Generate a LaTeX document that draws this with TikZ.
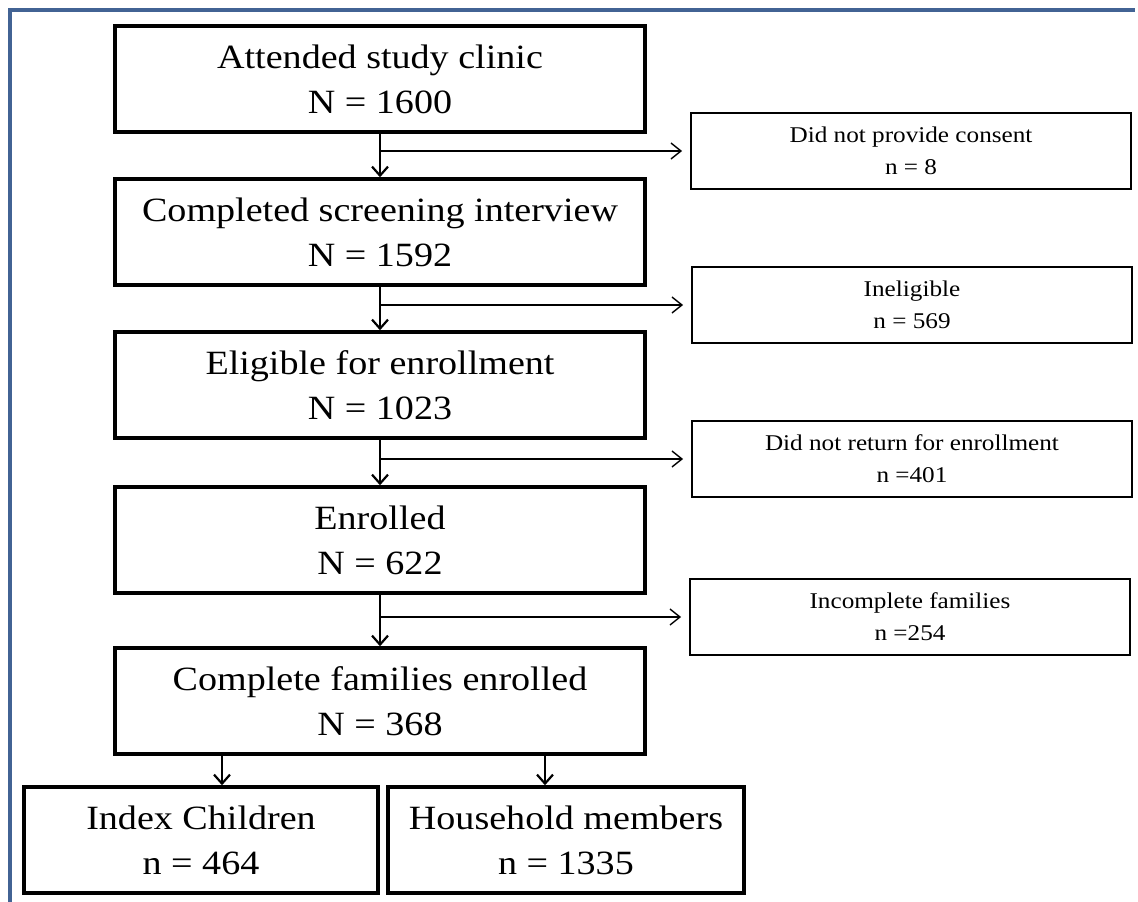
\documentclass[tikz,border=0pt]{standalone}
\usepackage{fontspec}
\setmainfont{Liberation Serif}
\newfontfamily\widefont[FakeStretch=1.12]{Liberation Serif}
\definecolor{frameblue}{RGB}{66, 99, 148}
\usetikzlibrary{arrows.meta, positioning, calc}

\begin{document}
\begin{tikzpicture}[x=1pt, y=-1pt,
    mainbox/.style={draw, line width=3.5pt, minimum width=530pt, minimum height=106pt, align=center, inner sep=0pt, font=\widefont\fontsize{34}{45}\selectfont},
    sidebox/.style={draw, line width=1.8pt, minimum width=440pt, minimum height=76pt, align=center, inner sep=0pt, font=\widefont\fontsize{22.5}{32}\selectfont},
    downarr/.style={line width=2.2pt, -{Straight Barb[length=9pt, width=16pt]}},
    sidearr/.style={line width=1.4pt, -{Straight Barb[length=10pt, width=16pt]}, shorten >=8pt}]
  \useasboundingbox (0,0) rectangle (1138,902);

  % Frame
  \draw[frameblue, line width=4pt] (10,902) -- (10,10) -- (1135,10);

  % Main flow
  \node[mainbox] (clinic) at (380, 79) {Attended study clinic\\N = 1600};
  \node[mainbox] (screen) at (380, 232) {Completed screening interview\\N = 1592};
  \node[mainbox] (eligible) at (380, 385) {Eligible for enrollment\\N = 1023};
  \node[mainbox] (enrolled) at (380, 540) {Enrolled\\N = 622};
  \node[mainbox] (complete) at (380, 701) {Complete families enrolled\\N = 368};

  % Exclusions
  \node[sidebox] (consent) at (911, 151) {Did not provide consent\\n = 8};
  \node[sidebox] (inelig) at (912, 305) {Ineligible\\n = 569};
  \node[sidebox] (noreturn) at (912, 459) {Did not return for enrollment\\n =401};
  \node[sidebox] (incomplete) at (910, 617) {Incomplete families\\n =254};

  % Final groups
  \node[mainbox, minimum width=354pt] (children) at (201, 840) {Index Children\\n = 464};
  \node[mainbox, minimum width=356pt] (members) at (566, 840) {Household members\\n = 1335};

  % Arrows
  \draw[downarr] (clinic) -- (screen);
  \draw[downarr] (screen) -- (eligible);
  \draw[downarr] (eligible) -- (enrolled);
  \draw[downarr] (enrolled) -- (complete);

  \draw[sidearr] (clinic.south |- consent.west) -- (consent.west);
  \draw[sidearr] (screen.south |- inelig.west) -- (inelig.west);
  \draw[sidearr] (eligible.south |- noreturn.west) -- (noreturn.west);
  \draw[sidearr] (enrolled.south |- incomplete.west) -- (incomplete.west);

  \draw[downarr] ([xshift=21pt]children.north |- complete.south) -- ([xshift=21pt]children.north);
  \draw[downarr] ([xshift=-21pt]members.north |- complete.south) -- ([xshift=-21pt]members.north);
\end{tikzpicture}
\end{document}
